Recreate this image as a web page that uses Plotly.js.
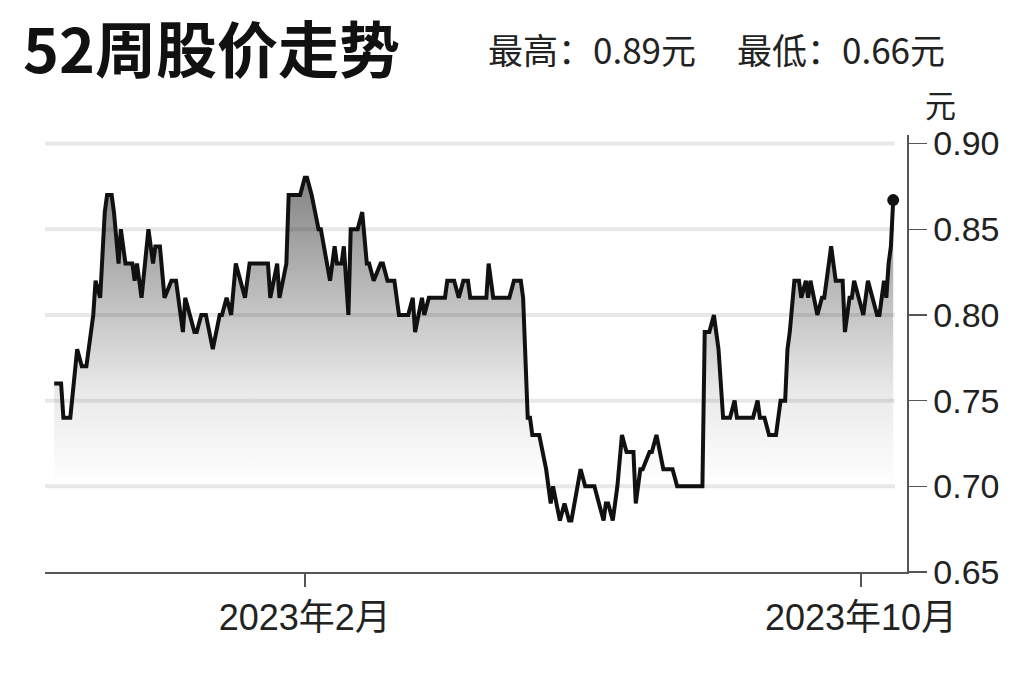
<!DOCTYPE html>
<html>
<head>
<meta charset="utf-8">
<script src="https://cdn.plot.ly/plotly-3.0.1.min.js"></script>
<style>html,body{margin:0;padding:0;background:#fff;}#chart{width:1024px;height:682px;}</style>
</head>
<body>
<div id="chart"></div>
<script>
const dates = ['2022-10-15','2022-10-18','2022-10-19','2022-10-22','2022-10-25','2022-10-27','2022-10-29','2022-11-01','2022-11-02','2022-11-04','2022-11-06','2022-11-07','2022-11-09','2022-11-10','2022-11-12','2022-11-13','2022-11-15','2022-11-18','2022-11-19','2022-11-20','2022-11-22','2022-11-25','2022-11-27','2022-11-28','2022-11-30','2022-12-02','2022-12-05','2022-12-07','2022-12-10','2022-12-11','2022-12-15','2022-12-16','2022-12-18','2022-12-20','2022-12-23','2022-12-26','2022-12-27','2022-12-29','2022-12-31','2023-01-02','2023-01-06','2023-01-08','2023-01-16','2023-01-17','2023-01-20','2023-01-21','2023-01-24','2023-01-25','2023-01-30','2023-02-01','2023-02-02','2023-02-04','2023-02-07','2023-02-08','2023-02-12','2023-02-14','2023-02-15','2023-02-17','2023-02-18','2023-02-20','2023-02-21','2023-02-24','2023-02-26','2023-02-28','2023-03-01','2023-03-03','2023-03-06','2023-03-07','2023-03-09','2023-03-12','2023-03-14','2023-03-18','2023-03-20','2023-03-21','2023-03-24','2023-03-25','2023-03-27','2023-04-03','2023-04-04','2023-04-07','2023-04-09','2023-04-11','2023-04-13','2023-04-14','2023-04-21','2023-04-22','2023-04-24','2023-05-01','2023-05-03','2023-05-06','2023-05-07','2023-05-09','2023-05-10','2023-05-11','2023-05-14','2023-05-17','2023-05-19','2023-05-20','2023-05-23','2023-05-25','2023-05-27','2023-05-28','2023-06-01','2023-06-03','2023-06-07','2023-06-11','2023-06-12','2023-06-13','2023-06-15','2023-06-17','2023-06-19','2023-06-21','2023-06-24','2023-06-25','2023-06-27','2023-06-28','2023-07-01','2023-07-02','2023-07-04','2023-07-07','2023-07-11','2023-07-13','2023-07-24','2023-07-25','2023-07-27','2023-07-29','2023-07-31','2023-08-02','2023-08-05','2023-08-07','2023-08-08','2023-08-15','2023-08-17','2023-08-18','2023-08-20','2023-08-22','2023-08-25','2023-08-27','2023-08-29','2023-08-30','2023-08-31','2023-09-02','2023-09-04','2023-09-05','2023-09-07','2023-09-08','2023-09-09','2023-09-12','2023-09-14','2023-09-15','2023-09-18','2023-09-20','2023-09-23','2023-09-24','2023-09-26','2023-09-27','2023-09-28','2023-10-02','2023-10-04','2023-10-08','2023-10-09','2023-10-11','2023-10-12','2023-10-13','2023-10-14','2023-10-15'];
const prices = [0.76,0.76,0.74,0.74,0.78,0.77,0.77,0.80,0.82,0.81,0.86,0.87,0.87,0.86,0.83,0.85,0.83,0.83,0.82,0.83,0.81,0.85,0.83,0.84,0.84,0.81,0.82,0.82,0.79,0.81,0.79,0.79,0.80,0.80,0.78,0.80,0.80,0.81,0.80,0.83,0.81,0.83,0.83,0.81,0.83,0.81,0.83,0.87,0.87,0.88,0.88,0.87,0.85,0.85,0.82,0.84,0.83,0.83,0.84,0.80,0.85,0.85,0.86,0.83,0.83,0.82,0.83,0.83,0.82,0.82,0.80,0.80,0.81,0.79,0.81,0.80,0.81,0.81,0.82,0.82,0.81,0.82,0.82,0.81,0.81,0.83,0.81,0.81,0.82,0.82,0.81,0.74,0.74,0.73,0.73,0.71,0.69,0.70,0.68,0.69,0.68,0.68,0.71,0.70,0.70,0.68,0.69,0.69,0.68,0.70,0.73,0.72,0.72,0.69,0.71,0.71,0.72,0.72,0.73,0.71,0.71,0.70,0.70,0.79,0.79,0.80,0.78,0.74,0.74,0.75,0.74,0.74,0.75,0.74,0.74,0.73,0.73,0.75,0.75,0.78,0.79,0.82,0.82,0.81,0.82,0.81,0.82,0.80,0.81,0.81,0.84,0.82,0.82,0.79,0.81,0.81,0.82,0.80,0.82,0.80,0.80,0.82,0.81,0.83,0.84,0.867];

const yTickVals = [0.65,0.70,0.75,0.80,0.85,0.90];
const yTickText = ['0.65','0.70','0.75','0.80','0.85','0.90'];
const gridVals = [0.70,0.75,0.80,0.85,0.90];
const xTickVals = ['2023-02-01','2023-10-01'];
const xTickText = ['2023年2月','2023年10月'];
const titleText = '52周股价走势';
const highText = '最高：0.89元';
const lowText = '最低：0.66元';
const unitText = '元';

const latinFont = 'Liberation Sans, Arial, Noto Sans CJK SC, sans-serif';
const cjkFont = 'Noto Sans CJK SC, sans-serif';

const traces = [
  {
    x: dates, y: prices, type: 'scatter', mode: 'lines',
    line: {color: '#111', width: 4, shape: 'linear'},
    fill: 'tozeroy',
    fillgradient: {
      type: 'vertical',
      start: 0.70, stop: 0.88,
      colorscale: [[0,'rgba(255,255,255,1)'],[0.3,'rgb(234,234,234)'],[0.6,'rgb(192,192,192)'],[1,'rgb(132,132,132)']]
    },
    hoverinfo: 'skip'
  },
  {
    x: [dates[dates.length-1]], y: [prices[prices.length-1]],
    type: 'scatter', mode: 'markers',
    marker: {color: '#111', size: 12},
    hoverinfo: 'skip'
  }
];

const shapes = gridVals.map(v => ({
  type: 'line', xref: 'paper', yref: 'y', x0: 0, x1: 0.986, y0: v, y1: v,
  line: {color: 'rgba(0,0,0,0.09)', width: 4}, layer: 'above'
}));

const layout = {
  width: 1024, height: 682,
  margin: {l: 45, r: 117, t: 135, b: 110},
  paper_bgcolor: '#fff', plot_bgcolor: '#fff',
  showlegend: false,
  xaxis: {
    type: 'date', range: ['2022-10-11','2023-10-21'],
    tickvals: xTickVals, ticktext: xTickText,
    ticks: 'outside', ticklen: 13, tickwidth: 1.5, tickcolor: '#555',
    showline: true, linecolor: '#555', linewidth: 2,
    showgrid: false, zeroline: false,
    tickfont: {family: latinFont, size: 36, color: '#222'},
    fixedrange: true
  },
  yaxis: {
    side: 'right', range: [0.65, 0.905],
    tickvals: yTickVals, ticktext: yTickText,
    ticks: 'outside', ticklen: 18, tickwidth: 1.5, tickcolor: '#555',
    showline: true, linecolor: '#555', linewidth: 1.5,
    showgrid: false, zeroline: false,
    tickfont: {family: latinFont, size: 34, color: '#222'},
    fixedrange: true
  },
  shapes: shapes,
  annotations: [
    {text: '<b>' + titleText + '</b>', xref: 'paper', yref: 'paper',
     x: (21-45)/862, y: (572-46)/437, xanchor: 'left', yanchor: 'middle',
     showarrow: false, font: {family: cjkFont, size: 61, color: '#111'}},
    {text: highText, xref: 'paper', yref: 'paper',
     x: (486-45)/862, y: (572-49)/437, xanchor: 'left', yanchor: 'middle',
     showarrow: false, font: {family: cjkFont, size: 35, color: '#222'}},
    {text: lowText, xref: 'paper', yref: 'paper',
     x: (735-45)/862, y: (572-49)/437, xanchor: 'left', yanchor: 'middle',
     showarrow: false, font: {family: cjkFont, size: 35, color: '#222'}},
    {text: unitText, xref: 'paper', yref: 'paper',
     x: (940-45)/862, y: (572-103)/437, xanchor: 'center', yanchor: 'middle',
     showarrow: false, font: {family: cjkFont, size: 31, color: '#222'}}
  ]
};

Plotly.newPlot('chart', traces, layout, {displayModeBar: false, staticPlot: true});
</script>
</body>
</html>
